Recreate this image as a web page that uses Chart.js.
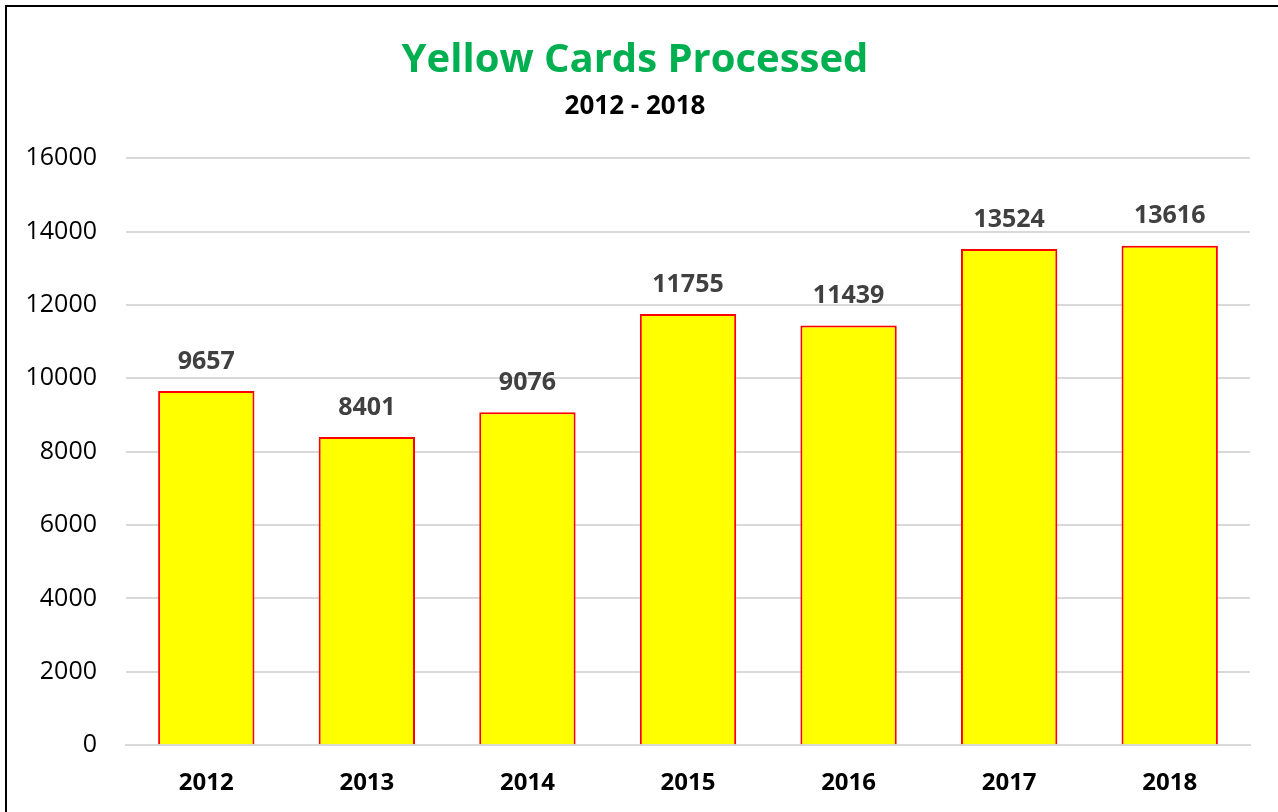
<!DOCTYPE html>
<html>
<head>
<meta charset="utf-8">
<script src="https://cdn.jsdelivr.net/npm/chart.js@4.4.0/dist/chart.umd.min.js"></script>
<style>
  html, body { margin: 0; padding: 0; background: #fff; }
  #wrap { position: relative; width: 1278px; height: 812px; }
  #frame { position: absolute; left: 5px; top: 5px; right: -10px; bottom: -10px; border-left: 2px solid #000; border-top: 2px solid #000; }
</style>
</head>
<body>
<div id="wrap">
  <canvas id="barChart" width="1278" height="812"></canvas>
  <div id="frame"></div>
</div>
<script>
var years = ["2012", "2013", "2014", "2015", "2016", "2017", "2018"];
var cards = [9657, 8401, 9076, 11755, 11439, 13524, 13616];
var yTicks = [0, 2000, 4000, 6000, 8000, 10000, 12000, 14000, 16000];

// labels above each bar
var barLabels = {
  id: 'barLabels',
  afterDatasetsDraw: function (chart) {
    var ctx = chart.ctx;
    var meta = chart.getDatasetMeta(0);
    ctx.save();
    ctx.font = "bold 25px 'Open Sans'";
    ctx.fillStyle = "#404040";
    ctx.textAlign = "center";
    ctx.textBaseline = "bottom";
    meta.data.forEach(function (bar, i) {
      ctx.fillText(cards[i], bar.x, bar.y - 17);
    });
    ctx.restore();
  }
};

var ctxB = document.getElementById("barChart").getContext('2d');
var myBarChart = new Chart(ctxB, {
  type: 'bar',
  data: {
    labels: years,
    datasets: [{
      data: cards,
      backgroundColor: "#FFFF00",
      borderColor: "#FF0000",
      borderWidth: 2,
      barPercentage: 0.6,
      categoryPercentage: 1.0
    }]
  },
  options: {
    responsive: false,
    animation: false,
    layout: { padding: { left: 20, right: 28, top: 37, bottom: -2 } },
    plugins: {
      legend: { display: false },
      tooltip: { enabled: false },
      title: {
        display: true,
        text: "Yellow Cards Processed",
        color: "#00B050",
        font: { family: "'Open Sans'", size: 40, weight: 'bold' },
        padding: { top: 0, bottom: 6 }
      },
      subtitle: {
        display: true,
        text: "2012 - 2018",
        color: "#000",
        font: { family: "'Open Sans'", size: 26, weight: 'bold' },
        padding: { top: 0, bottom: 36 }
      }
    },
    scales: {
      x: {
        grid: { display: false },
        border: { color: "#d9d9d9", width: 2 },
        ticks: {
          color: "#000",
          font: { family: "'Open Sans'", size: 24, weight: 'bold' },
          padding: 16
        }
      },
      y: {
        min: 0,
        max: 16000,
        afterBuildTicks: function (axis) {
          axis.ticks = yTicks.map(function (v) { return { value: v }; });
        },
        afterFit: function (axis) { axis.width = 106; },
        grid: { color: "#d9d9d9", lineWidth: 2, drawTicks: false },
        border: { display: false },
        ticks: {
          color: "#000",
          font: { family: "'Open Sans'", size: 25 },
          padding: 29,
          callback: function (v) { return String(v); }
        }
      }
    }
  },
  plugins: [barLabels]
});
</script>
</body>
</html>
